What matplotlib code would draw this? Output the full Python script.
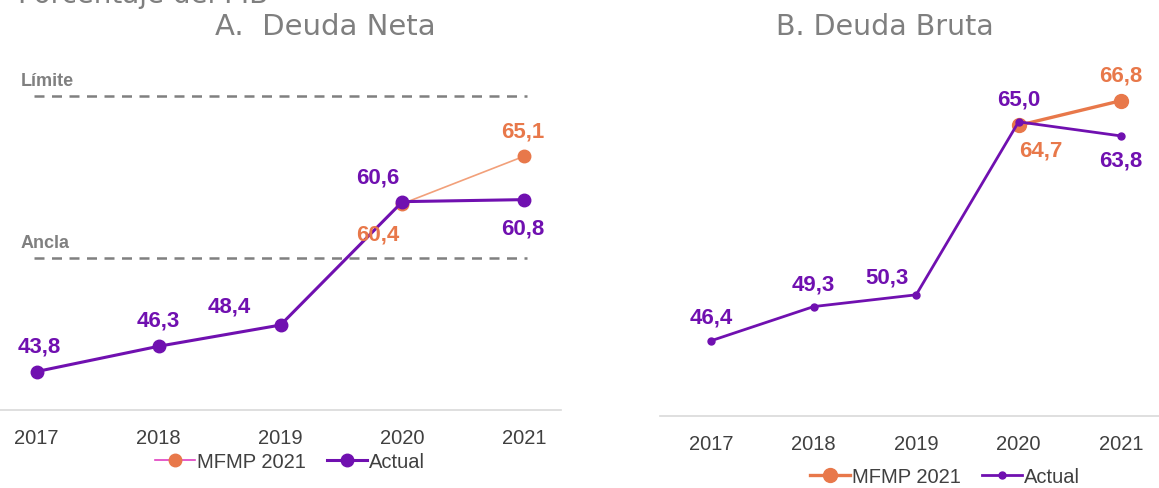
import matplotlib.pyplot as plt
from matplotlib.lines import Line2D

years = ["2017", "2018", "2019", "2020", "2021"]

# A. Deuda Neta
neta_actual = [43.8, 46.3, 48.4, 60.6, 60.8]
neta_mfmp = [60.4, 65.1]          # 2020, 2021
limite = 71.0
ancla = 55.0

# B. Deuda Bruta
bruta_actual = [46.4, 49.3, 50.3, 65.0, 63.8]
bruta_mfmp = [64.7, 66.8]         # 2020, 2021

purple = "#7010B0"
orange = "#E8784A"
salmon = "#F2A07A"
gray = "#808080"

plt.rcParams['font.family'] = ['Liberation Sans', 'DejaVu Sans']

W, H = 1159, 489
fig = plt.figure(figsize=(W / 100, H / 100), dpi=100)


def px_axes(left, top, right, bottom):
    return fig.add_axes([left / W, 1 - bottom / H, (right - left) / W, (bottom - top) / H])


def style(ax):
    for s in ["top", "right", "left"]:
        ax.spines[s].set_visible(False)
    ax.spines["bottom"].set_color("#d9d9d9")
    ax.spines["bottom"].set_linewidth(1.2)
    ax.set_yticks([])
    ax.set_xticks(range(len(years)))
    ax.set_xticklabels(years, fontsize=14.5, color="#404040")
    ax.tick_params(axis="x", length=0, pad=13)
    ax.set_facecolor("none")


def label(ax, x, y, txt, dx, dy, color):
    ax.annotate(txt, (x, y), xytext=(dx, dy), textcoords="offset pixels",
                ha="center", va="center", fontsize=16, fontweight="bold", color=color)


# ---- panel A ----
ax1 = px_axes(0, 57, 561, 411)
style(ax1)
ax1.set_xlim(-0.3, 4.3)
ax1.set_ylim(40, 75)
xs = list(range(len(years)))
ax1.axhline(limite, xmin=0.06, xmax=0.94, color=gray, ls=(0, (4, 3)), lw=1.8)
ax1.axhline(ancla, xmin=0.06, xmax=0.94, color=gray, ls=(0, (4, 3)), lw=1.8)
ax1.text(-0.13, limite + 0.75, "Límite", fontsize=13, fontweight="bold", color=gray, va="bottom")
ax1.text(-0.13, ancla + 0.75, "Ancla", fontsize=13, fontweight="bold", color=gray, va="bottom")
ax1.plot([3, 4], neta_mfmp, color=salmon, lw=1.2, marker="o", ms=9,
         mfc=orange, mec=orange, zorder=2)
ax1.plot(xs, neta_actual, color=purple, lw=2.2, marker="o", ms=9,
         mfc=purple, mec=purple, zorder=3)
label(ax1, 0, neta_actual[0], "43,8", 3, 26, purple)
label(ax1, 1, neta_actual[1], "46,3", 0, 26, purple)
label(ax1, 2, neta_actual[2], "48,4", -51, 19, purple)
label(ax1, 3, neta_actual[3], "60,6", -25, 25, purple)
label(ax1, 3, neta_mfmp[0], "60,4", -25, -30, orange)
label(ax1, 4, neta_mfmp[1], "65,1", -2, 25, orange)
label(ax1, 4, neta_actual[4], "60,8", -2, -28, purple)
h1 = [Line2D([], [], color="#E040C0", lw=1.2, marker="o", ms=9, mfc=orange, mec=orange),
      Line2D([], [], color=purple, lw=2.2, marker="o", ms=9, mfc=purple, mec=purple)]
fig.legend(h1, ["MFMP 2021", "Actual"], loc="center", bbox_to_anchor=(290 / W, 1 - 463 / H),
           ncol=2, frameon=False, fontsize=14.5, handlelength=2.0, handletextpad=0.1,
           columnspacing=1.0, labelcolor="#404040")

# ---- panel B ----
ax2 = px_axes(660, 64, 1159, 417)
style(ax2)
ax2.set_xlim(-0.5, 4.37)
ax2.set_ylim(40, 70)
ax2.plot([3, 4], bruta_mfmp, color=orange, lw=2.4, marker="o", ms=10,
         mfc=orange, mec=orange, zorder=2)
ax2.plot(xs, bruta_actual, color=purple, lw=2.0, marker="o", ms=5,
         mfc=purple, mec=purple, zorder=3)
label(ax2, 0, bruta_actual[0], "46,4", 0, 24, purple)
label(ax2, 1, bruta_actual[1], "49,3", 0, 23, purple)
label(ax2, 2, bruta_actual[2], "50,3", -29, 18, purple)
label(ax2, 3, bruta_actual[3], "65,0", 0, 23, purple)
label(ax2, 3, bruta_mfmp[0], "64,7", 22, -25, orange)
label(ax2, 4, bruta_mfmp[1], "66,8", 0, 26, orange)
label(ax2, 4, bruta_actual[4], "63,8", 0, -24, purple)
h2 = [Line2D([], [], color=orange, lw=2.4, marker="o", ms=10, mfc=orange, mec=orange),
      Line2D([], [], color=purple, lw=2.0, marker="o", ms=5, mfc=purple, mec=purple)]
fig.legend(h2, ["MFMP 2021", "Actual"], loc="center", bbox_to_anchor=(945 / W, 1 - 478 / H),
           ncol=2, frameon=False, fontsize=14.5, handlelength=2.0, handletextpad=0.1,
           columnspacing=1.0, labelcolor="#404040")

# titles
fig.text(325 / W, 1 - 27 / H, "A.  Deuda Neta", ha="center", va="center",
         fontsize=21, color="#7f7f7f", family="DejaVu Sans")
fig.text(885 / W, 1 - 27 / H, "B. Deuda Bruta", ha="center", va="center",
         fontsize=20.5, color="#7f7f7f", family="DejaVu Sans")
fig.text(18 / W, 1 - 3 / H, "Porcentaje del PIB", ha="left", va="baseline",
         fontsize=20, color="#7f7f7f", family="DejaVu Sans")

fig.savefig("out.png", dpi=100)
